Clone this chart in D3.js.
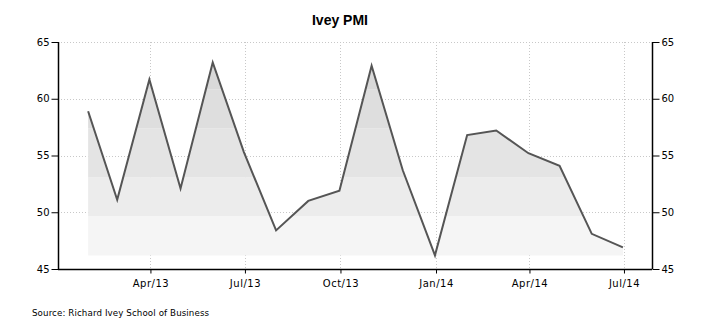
<!DOCTYPE html>
<html><head><meta charset="utf-8">
<script src="https://cdn.jsdelivr.net/npm/d3@7"></script>
<style>
html,body{margin:0;padding:0;background:#fff;}
svg{display:block;font-family:"DejaVu Sans",Verdana,sans-serif;}
</style></head>
<body><svg id="c" width="711" height="326"></svg>
<script>
const dates = ["2013-01-31","2013-02-28","2013-03-31","2013-04-30","2013-05-31","2013-06-30","2013-07-31","2013-08-31","2013-09-30","2013-10-31","2013-11-30","2013-12-31","2014-01-31","2014-02-28","2014-03-31","2014-04-30","2014-05-31","2014-06-30"];
const values = [58.9,51.1,61.7,52.1,63.2,55.3,48.4,51.0,51.9,62.9,53.7,46.2,56.8,57.2,55.2,54.1,48.1,46.9];
const xTickDates = ["2013-04-01","2013-07-01","2013-10-01","2014-01-01","2014-04-01","2014-07-01"];
const yTicks = [45,50,55,60,65];
const bandEdges = [46.15,49.67,53.1,57.4,60.8,66];
const bandColors = ["#f5f5f5","#ececec","#e4e4e4","#dedede","#d9d9d9"];
const title = "Ivey PMI";
const source = "Source: Richard Ivey School of Business";

const svg = d3.select("#c");
const L=58, R=652, T=42, B=269;
const parse = d3.utcParse("%Y-%m-%d");
const data = dates.map((d,i)=>({d:parse(d),v:values[i]}));
const x = d3.scaleUtc().domain([parse("2013-01-02"),parse("2014-07-28")]).range([L,R]);
const y = d3.scaleLinear().domain([45,65]).range([B,T]);
const fmt = d3.utcFormat("%b/%y");
const xt = xTickDates.map(parse);

// grid
const g = svg.append("g");
g.selectAll(".hg").data(yTicks.filter(v=>v>45)).join("line")
 .attr("x1",L).attr("x2",R).attr("y1",d=>Math.round(y(d))+0.5).attr("y2",d=>Math.round(y(d))+0.5)
 .attr("stroke","#c8c8c8").attr("stroke-dasharray","1,2");
g.selectAll(".vg").data(xt).join("line")
 .attr("x1",d=>Math.round(x(d))+0.5).attr("x2",d=>Math.round(x(d))+0.5).attr("y1",T).attr("y2",B)
 .attr("stroke","#c8c8c8").attr("stroke-dasharray","1,2");

// area
const minV = d3.min(values);
const area = d3.area().x(d=>x(d.d)).y0(y(minV)).y1(d=>y(d.v));
svg.append("clipPath").attr("id","ac").append("path").attr("d",area(data));
const bands = svg.append("g").attr("clip-path","url(#ac)");
bandColors.forEach((c,i)=>{
  bands.append("rect").attr("x",L).attr("width",R-L)
   .attr("y",y(bandEdges[i+1])).attr("height",y(bandEdges[i])-y(bandEdges[i+1])).attr("fill",c);
});

// line
svg.append("path").datum(data).attr("d",d3.line().x(d=>x(d.d)).y(d=>y(d.v)))
 .attr("fill","none").attr("stroke","#555").attr("stroke-width",2).attr("stroke-linejoin","miter");

// axes
const axL = svg.append("g").attr("transform",`translate(${L+0.5},0)`)
 .call(d3.axisLeft(y).tickValues(yTicks).tickSize(7).tickPadding(2).tickFormat(d3.format("d")));
const axR = svg.append("g").attr("transform",`translate(${R+0.5},0)`)
 .call(d3.axisRight(y).tickValues(yTicks).tickSize(7).tickPadding(2).tickFormat(d3.format("d")));
const axB = svg.append("g").attr("transform",`translate(0,${B+0.5})`)
 .call(d3.axisBottom(x).tickValues(xt).tickSize(4).tickPadding(6).tickFormat(fmt));
[axL,axR,axB].forEach(a=>{
  a.select(".domain").attr("stroke","#000").attr("stroke-width",1.5);
  a.selectAll(".tick line").attr("stroke","#000");
  a.selectAll("text").style("font-size","10px").attr("fill","#000").style("font-family","DejaVu Sans, sans-serif");
});
axB.selectAll("text").style("letter-spacing","0.5px");
axB.select(".domain").attr("d",`M${L},0H${R}`);
axL.select(".domain").attr("d",`M0,${T}V${B}`);
axR.select(".domain").attr("d",`M0,${T}V${B}`);

svg.append("text").attr("x",340).attr("y",25).attr("text-anchor","middle")
 .style("font-family","'Liberation Sans', Arial, sans-serif").style("font-weight","bold").style("font-size","14px").text(title);
svg.append("text").attr("x",32).attr("y",316).style("font-size","8.7px").style("letter-spacing","0.1px").text(source);
</script></body></html>
